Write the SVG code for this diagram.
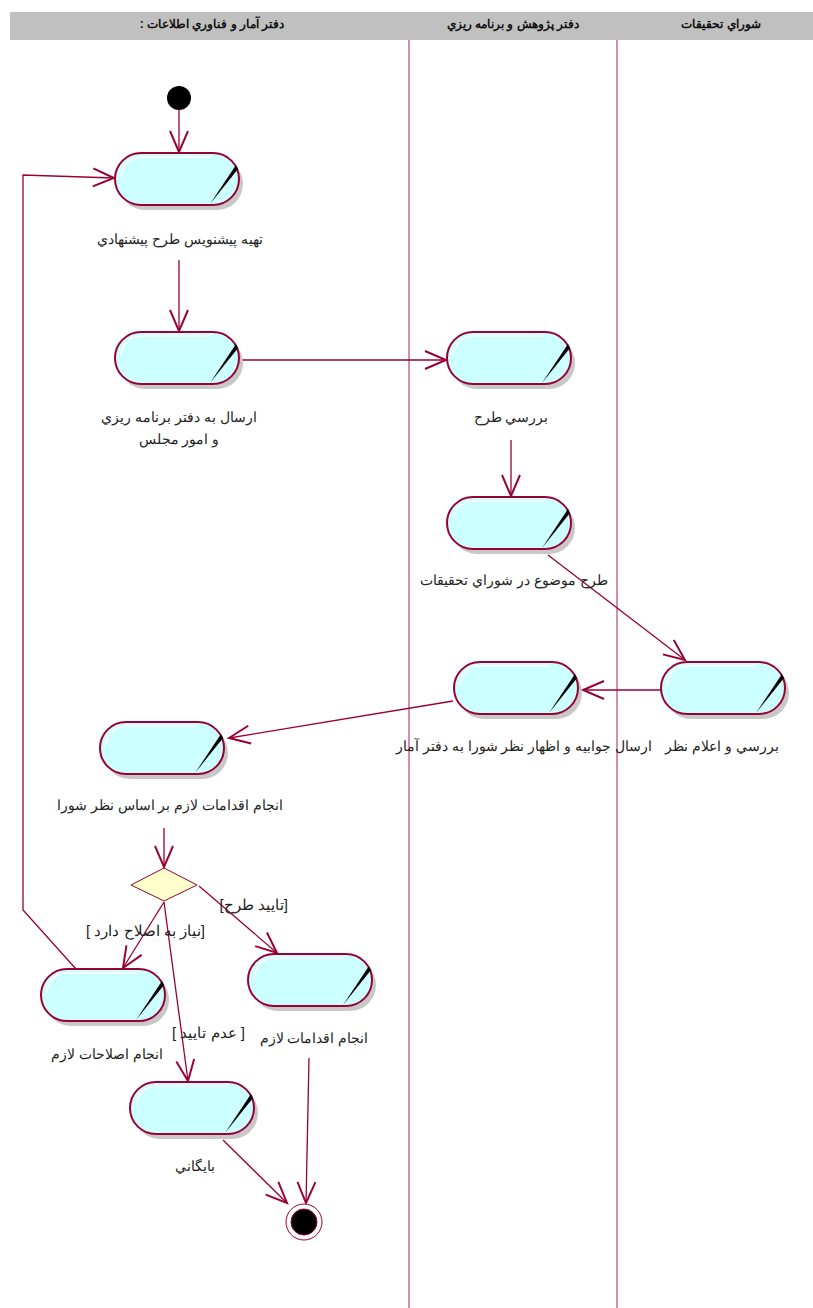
<svg xmlns="http://www.w3.org/2000/svg" xmlns:xlink="http://www.w3.org/1999/xlink" width="813" height="1308" viewBox="0 0 813 1308">
<style>
.lbl{font-family:"Liberation Sans",Arial,"Noto Sans",sans-serif;font-size:14px;fill:#222;}
.grd{font-family:"Liberation Sans",Arial,"Noto Sans",sans-serif;font-size:15px;fill:#222;}
.hdr{font-family:"Liberation Sans",Arial,"Noto Sans",sans-serif;font-size:12px;font-weight:bold;fill:#111;}
.edge{fill:none;stroke:#990033;stroke-width:1.3;}
.lane{stroke:#a8204c;stroke-width:1;}
</style>
<defs>
<marker id="arr" markerUnits="userSpaceOnUse" markerWidth="30" markerHeight="30" refX="0" refY="0" viewBox="-16 -10 20 20" orient="auto">
<path d="M-14,-6 L0,0 L-14,6" fill="none" stroke="#990033" stroke-width="1.3"/>
</marker>
<g id="act">
<rect x="4" y="5" width="124" height="52" rx="26" fill="#c8c8c8"/>
<rect x="0" y="0" width="124" height="52" rx="26" fill="#ccffff" stroke="#990033" stroke-width="2"/>
<path d="M6,24 A20,20 0 0 1 26,4 L96,4" fill="none" stroke="#ffffff" stroke-width="1.5"/>
<polygon points="95,51 121,12 123,16" fill="#000"/>
</g>
</defs>
<rect width="813" height="1308" fill="#fff"/>
<g id="lanes">
<rect x="10" y="12" width="803" height="28" fill="#c0c0c0"/>
<line class="lane" x1="409" y1="40" x2="409" y2="1308"/>
<line class="lane" x1="617" y1="40" x2="617" y2="1308"/>
<text class="hdr" x="212" y="28" text-anchor="middle" direction="rtl">دفتر آمار و فناوري اطلاعات :</text>
<text class="hdr" x="513" y="28" text-anchor="middle" direction="rtl">دفتر پژوهش و برنامه ريزي</text>
<text class="hdr" x="721" y="28" text-anchor="middle" direction="rtl">شوراي تحقيقات</text>
</g>
<g id="connectors">
<line class="edge" x1="179" y1="110" x2="179" y2="152" marker-end="url(#arr)"/>
<line class="edge" x1="179" y1="260" x2="179" y2="331" marker-end="url(#arr)"/>
<line class="edge" x1="241" y1="360" x2="446" y2="360" marker-end="url(#arr)"/>
<line class="edge" x1="511" y1="440" x2="511" y2="496" marker-end="url(#arr)"/>
<line class="edge" x1="548" y1="555" x2="685" y2="660" marker-end="url(#arr)"/>
<line class="edge" x1="661" y1="690" x2="583" y2="690" marker-end="url(#arr)"/>
<line class="edge" x1="453" y1="701" x2="229" y2="738" marker-end="url(#arr)"/>
<line class="edge" x1="164" y1="828" x2="164" y2="867" marker-end="url(#arr)"/>
<line class="edge" x1="199" y1="886" x2="277" y2="953" marker-end="url(#arr)"/>
<line class="edge" x1="164" y1="902" x2="123" y2="968" marker-end="url(#arr)"/>
<line class="edge" x1="164" y1="902" x2="188" y2="1081" marker-end="url(#arr)"/>
<polyline class="edge" points="76,969 23,910 23,175 114,178" marker-end="url(#arr)"/>
<line class="edge" x1="309" y1="1058" x2="306" y2="1203" marker-end="url(#arr)"/>
<line class="edge" x1="223" y1="1140" x2="287" y2="1203" marker-end="url(#arr)"/>
<text class="grd" x="288" y="910" text-anchor="end">[تاييد طرح]</text>
<text class="grd" x="86" y="936">[ نياز به اصلاح دارد]</text>
<text class="grd" x="172" y="1038">[ عدم تاييد ]</text>
</g>
<g id="start"><circle cx="179" cy="98" r="12" fill="#000"/></g>
<g id="n1"><use xlink:href="#act" transform="translate(115,153)"/><text class="lbl" x="180" y="244" text-anchor="middle" direction="rtl">تهيه پيشنويس طرح پيشنهادي</text></g>
<g id="n2"><use xlink:href="#act" transform="translate(115,332)"/><text class="lbl" x="179" y="422" text-anchor="middle" direction="rtl">ارسال به دفتر برنامه ريزي</text><text class="lbl" x="179" y="444" text-anchor="middle" direction="rtl">و امور مجلس</text></g>
<g id="n3"><use xlink:href="#act" transform="translate(447,332)"/><text class="lbl" x="511" y="422" text-anchor="middle" direction="rtl">بررسي طرح</text></g>
<g id="n4"><use xlink:href="#act" transform="translate(447,497)"/><text class="lbl" x="514" y="585" text-anchor="middle" direction="rtl">طرح موضوع در شوراي تحقيقات</text></g>
<g id="n5"><use xlink:href="#act" transform="translate(454,662)"/><text class="lbl" x="524" y="751" text-anchor="middle" direction="rtl">ارسال جوابيه و اظهار نظر شورا به دفتر آمار</text></g>
<g id="n6"><use xlink:href="#act" transform="translate(661,662)"/><text class="lbl" x="722" y="751" text-anchor="middle" direction="rtl">بررسي و اعلام نظر</text></g>
<g id="n7"><use xlink:href="#act" transform="translate(100,722)"/><text class="lbl" x="170" y="810" text-anchor="middle" direction="rtl">انجام اقدامات لازم بر اساس نظر شورا</text></g>
<g id="decision"><polygon points="131,885 164,868 197,885 164,901" fill="#ffffcc" stroke="#990033" stroke-width="1"/></g>
<g id="n8"><use xlink:href="#act" transform="translate(41,969)"/><text class="lbl" x="107" y="1059" text-anchor="middle" direction="rtl">انجام اصلاحات لازم</text></g>
<g id="n9"><use xlink:href="#act" transform="translate(248,954)"/><text class="lbl" x="314" y="1043" text-anchor="middle" direction="rtl">انجام اقدامات لازم</text></g>
<g id="n10"><use xlink:href="#act" transform="translate(130,1082)"/><text class="lbl" x="195" y="1171" text-anchor="middle" direction="rtl">بايگاني</text></g>
<g id="end"><circle cx="304" cy="1222" r="18" fill="#fff" stroke="#990033" stroke-width="1"/><circle cx="304" cy="1222" r="13" fill="#000" stroke="#990033" stroke-width="1"/></g>
</svg>
